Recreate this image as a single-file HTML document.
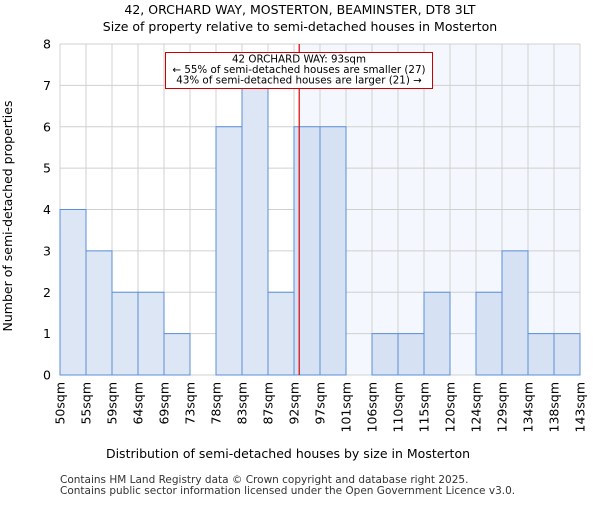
<!DOCTYPE html>
<html><head><meta charset="utf-8"><style>body{margin:0;background:#fff}svg{font-family:"DejaVu Sans","Liberation Sans",sans-serif}</style></head>
<body>
<svg width="600" height="500">
<text x="300" y="14" text-anchor="middle" font-size="12.5">42, ORCHARD WAY, MOSTERTON, BEAMINSTER, DT8 3LT</text>
<text x="300" y="31" text-anchor="middle" font-size="12.5">Size of property relative to semi-detached houses in Mosterton</text>
<g id="plot"></g>
<text x="288" y="458" text-anchor="middle" font-size="12.5">Distribution of semi-detached houses by size in Mosterton</text>
<text transform="translate(12,216) rotate(-90)" text-anchor="middle" font-size="12.5">Number of semi-detached properties</text>
<text x="60" y="483" font-size="10.5" fill="#333">Contains HM Land Registry data © Crown copyright and database right 2025.</text>
<text x="60" y="494" font-size="10.5" fill="#333">Contains public sector information licensed under the Open Government Licence v3.0.</text>
</svg>
<script>
const categories=["50sqm","55sqm","59sqm","64sqm","69sqm","73sqm","78sqm","83sqm","87sqm","92sqm","97sqm","101sqm","106sqm","110sqm","115sqm","120sqm","124sqm","129sqm","134sqm","138sqm","143sqm"];
const counts=[4,3,2,2,1,0,6,7,2,6,6,0,1,1,2,0,2,3,1,1];
const yTicks=[0,1,2,3,4,5,6,7,8];
const propertyBinPos=9.2;
const NS="http://www.w3.org/2000/svg";
const g=document.getElementById('plot');
const X0=60,X1=580,Y0=375,Y1=44;
const bw=(X1-X0)/counts.length;
const xs=i=>X0+i*bw;
const ys=v=>Y0-(Y0-Y1)*v/8;
function mk(t,a){const e=document.createElementNS(NS,t);for(const k in a)e.setAttribute(k,a[k]);g.appendChild(e);return e;}
const px=xs(propertyBinPos);
let e=mk('rect',{x:px,y:Y1,width:X1-px,height:Y0-Y1,fill:'#f4f7fd'});


yTicks.forEach(v=>{
 let l=mk('line',{x1:X0,x2:X1,y1:ys(v),y2:ys(v),stroke:'#d0d0d0','stroke-width':1});
 
 
 let t=mk('text',{x:X0-9,y:ys(v)+4.5,'text-anchor':'end','font-size':12.5});
 t.textContent=v;
 
 
});
categories.forEach((c,i)=>{
 let l=mk('line',{x1:xs(i),x2:xs(i),y1:Y1,y2:Y0,stroke:'#d0d0d0','stroke-width':1});
 
 
 let t=mk('text',{transform:`translate(${xs(i)+4.5},382) rotate(-90)`,'text-anchor':'end','font-size':12.5});
 t.textContent=c;
 
 
});
counts.forEach((v,i)=>{
 if(!v)return;
 let r=mk('rect',{x:xs(i),y:ys(v),width:bw,height:Y0-ys(v),fill:i>=9?'#d6e2f4':'#dce6f4',stroke:'#5b8fd6','stroke-width':1});
 
 
});
e=mk('line',{x1:px,x2:px,y1:Y1,y2:Y0,stroke:'#d00','stroke-width':1.2});


e=mk('rect',{x:165.5,y:52.5,width:267,height:36,fill:'#fff',stroke:'#c00','stroke-width':1});


["42 ORCHARD WAY: 93sqm","← 55% of semi-detached houses are smaller (27)","43% of semi-detached houses are larger (21) →"].forEach((s,k)=>{
 let t=mk('text',{x:299,y:62.5+k*10.5,'text-anchor':'middle','font-size':10.3});
 t.textContent=s;
 
 
});
</script>
</body></html>
